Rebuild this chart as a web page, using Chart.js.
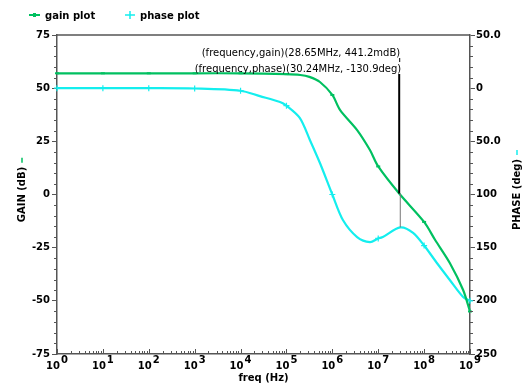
<!DOCTYPE html>
<html>
<head>
<meta charset="utf-8">
<script src="https://cdn.jsdelivr.net/npm/chart.js@4"></script>
<style>
  html, body { margin: 0; padding: 0; background: #fff; }
  #wrap { width: 526px; height: 387px; }
</style>
</head>
<body>
<div id="wrap"><canvas id="bode" width="526" height="387"></canvas></div>
<script>
// gain plot (freq in Hz, gain in dB)
const gainFreq = [1, 10, 100, 1e3, 1e4, 1e5, 2e5, 3.16e5, 5.37e5, 1e6, 1.48e6, 3.47e6, 6.6e6, 1e7, 28.65e6, 1e8, 1.74e8, 3.63e8, 7.08e8, 1e9];
const gainDb   = [57, 57, 57, 57, 57, 56.6, 56.2, 55.3, 52.9, 46.8, 39.7, 30.3, 20.9, 13.2, 0.44, -12.9, -21.4, -32.2, -44.9, -55];

// phase plot (freq in Hz, phase in deg)
const phaseFreq = [1, 10, 100, 1e3, 1e4, 2.63e4, 7.24e4, 1e5, 1.95e5, 3.24e5, 5.37e5, 1e6, 1.7e6, 3.47e6, 6.6e6, 1e7, 1.26e7, 30.24e6, 5.75e7, 1e8, 1.9e8, 3.63e8, 7.08e8, 1e9];
const phaseDeg  = [0, 0, 0, -0.3, -2.4, -7.5, -13, -16.5, -28, -48.7, -70.4, -100, -124, -140, -144.7, -141.3, -140, -130.9, -136, -148, -164.4, -180.4, -196.4, -200];

// axes
const gainTicks = [-75, -50, -25, 0, 25, 50, 75];
const phaseTicks = [50, 0, -50, -100, -150, -200, -250];
const phaseTickLabels = ['50.0', '0', '50.0', '100', '150', '200', '250'];
const decades = [0, 1, 2, 3, 4, 5, 6, 7, 8, 9];

// cursor readouts
const gainCursor = { freq: 28.65e6, val: 0.4412, text: '(frequency,gain)(28.65MHz, 441.2mdB)' };
const phaseCursor = { freq: 30.24e6, val: -130.9, text: '(frequency,phase)(30.24MHz, -130.9deg)' };

const GREEN = '#00c060';
const CYAN = '#14eeee';
const AXIS = '#555555';
const FONT = "'DejaVu Sans', Verdana, sans-serif";

const isDecade = v => Math.abs(Math.log10(v) - Math.round(Math.log10(v))) < 1e-6;

const extras = {
    id: 'extras',
    afterDraw(chart) {
        const ctx = chart.ctx;
        const a = chart.chartArea;
        const x = chart.scales.x, y = chart.scales.y, y2 = chart.scales.y2;
        ctx.save();

        // top border
        ctx.strokeStyle = AXIS;
        ctx.lineWidth = 1.5;
        ctx.beginPath();
        ctx.moveTo(a.left, a.top); ctx.lineTo(a.right, a.top);
        ctx.stroke();

        // minor ticks on y axes
        ctx.lineWidth = 1;
        ctx.beginPath();
        for (let v = -75; v <= 75; v += 5) {
            if (v % 25 === 0) continue;
            const py = Math.round(y.getPixelForValue(v)) + 0.5;
            ctx.moveTo(a.left - 3, py); ctx.lineTo(a.left, py);
        }
        for (let v = -250; v <= 50; v += 10) {
            if (v % 50 === 0) continue;
            const py = Math.round(y2.getPixelForValue(v)) + 0.5;
            ctx.moveTo(a.right, py); ctx.lineTo(a.right + 3, py);
        }
        // x ticks
        decades.forEach(d => {
            for (let m = 1; m <= 9; m++) {
                if (d === 9 && m > 1) break;
                const px = Math.round(x.getPixelForValue(m * Math.pow(10, d))) + 0.5;
                const len = m === 1 ? 5 : 3;
                ctx.moveTo(px, a.bottom); ctx.lineTo(px, a.bottom - len);
            }
        });
        ctx.stroke();

        // x tick labels with exponents
        ctx.fillStyle = '#000';
        ctx.textBaseline = 'alphabetic';
        decades.forEach(d => {
            const px = x.getPixelForValue(Math.pow(10, d));
            ctx.font = 'bold 10px ' + FONT;
            const w1 = ctx.measureText('10').width;
            ctx.font = 'bold 10px ' + FONT;
            const w2 = ctx.measureText(String(d)).width;
            const left = px - (w1 + w2 + 1) / 2;
            ctx.textAlign = 'left';
            ctx.fillText('10', left, 369);
            ctx.fillText(String(d), left + w1 + 1, 363);
        });

        // x title
        ctx.font = 'bold 10px ' + FONT;
        ctx.textAlign = 'center';
        ctx.fillText('freq (Hz)', (a.left + a.right) / 2, 381);

        // y titles (both read bottom to top)
        const midY = (a.top + a.bottom) / 2;
        [[22, 'GAIN (dB)', GREEN], [517, 'PHASE (deg)', CYAN]].forEach(([tx, txt, col]) => {
            ctx.save();
            ctx.translate(tx, midY);
            ctx.rotate(-Math.PI / 2);
            ctx.font = 'bold 10px ' + FONT;
            ctx.textAlign = 'center';
            ctx.textBaseline = 'middle';
            ctx.fillStyle = '#000';
            ctx.fillText(txt, 0, 0);
            const w = ctx.measureText(txt).width;
            ctx.strokeStyle = col;
            ctx.lineWidth = 1.5;
            ctx.beginPath();
            ctx.moveTo(w / 2 + 4, 0); ctx.lineTo(w / 2 + 9, 0);
            ctx.stroke();
            ctx.restore();
        });

        // legend
        ctx.font = 'bold 10px ' + FONT;
        ctx.textAlign = 'left';
        ctx.textBaseline = 'alphabetic';
        ctx.strokeStyle = GREEN;
        ctx.lineWidth = 2;
        ctx.beginPath(); ctx.moveTo(29, 15); ctx.lineTo(40, 15); ctx.stroke();
        ctx.fillStyle = GREEN;
        ctx.fillRect(33, 13, 3, 4);
        ctx.fillStyle = '#000';
        ctx.fillText('gain plot', 45, 19);
        ctx.strokeStyle = CYAN;
        ctx.lineWidth = 1.5;
        ctx.beginPath();
        ctx.moveTo(125, 15); ctx.lineTo(135, 15);
        ctx.moveTo(130, 11); ctx.lineTo(130, 19);
        ctx.stroke();
        ctx.fillText('phase plot', 140, 19);

        // cursor
        const gx = x.getPixelForValue(gainCursor.freq);
        const gy = y.getPixelForValue(gainCursor.val);
        const phx = x.getPixelForValue(phaseCursor.freq);
        const phy = y2.getPixelForValue(phaseCursor.val);
        ctx.strokeStyle = '#000';
        ctx.lineWidth = 2;
        ctx.beginPath(); ctx.moveTo(gx, 74); ctx.lineTo(gx, gy); ctx.stroke();
        ctx.strokeStyle = '#777';
        ctx.lineWidth = 1;
        ctx.beginPath(); ctx.moveTo(phx, gy); ctx.lineTo(phx, phy); ctx.stroke();
        ctx.strokeStyle = '#000';
        ctx.beginPath(); ctx.moveTo(gx + 0.5, 58); ctx.lineTo(gx + 0.5, 62); ctx.stroke();

        ctx.font = '10px ' + FONT;
        ctx.textAlign = 'right';
        ctx.fillStyle = '#000';
        ctx.fillText(gainCursor.text, gx + 1, 56);
        ctx.fillText(phaseCursor.text, phx + 1, 72);

        ctx.restore();
    }
};

const gainData = gainFreq.map((f, i) => ({ x: f, y: gainDb[i] }));
const phaseData = phaseFreq.map((f, i) => ({ x: f, y: phaseDeg[i] }));

new Chart(document.getElementById('bode').getContext('2d'), {
    type: 'line',
    data: {
        datasets: [
            {
                label: 'gain plot',
                data: gainData,
                yAxisID: 'y',
                borderColor: GREEN,
                backgroundColor: GREEN,
                borderWidth: 2.2,
                tension: 0.3,
                pointStyle: 'line',
                pointRadius: c => (c.raw && isDecade(c.raw.x) ? 2 : 0),
                pointBorderWidth: 2,
                clip: false,
            },
            {
                label: 'phase plot',
                data: phaseData,
                yAxisID: 'y2',
                borderColor: CYAN,
                backgroundColor: CYAN,
                borderWidth: 2.2,
                tension: 0.3,
                pointStyle: 'cross',
                pointRadius: c => (c.raw && isDecade(c.raw.x) ? 3 : 0),
                pointBorderWidth: 1.2,
                clip: false,
            }
        ]
    },
    options: {
        responsive: false,
        animation: false,
        devicePixelRatio: 1,
        layout: { padding: { top: 35, left: 0, right: 0, bottom: 0 } },
        plugins: { legend: { display: false }, tooltip: { enabled: false } },
        scales: {
            x: {
                type: 'logarithmic',
                position: 'bottom',
                min: 1,
                max: 1e9,
                ticks: { display: false },
                grid: { display: false },
                border: { display: true, color: AXIS, width: 1.5 },
                afterFit: s => { s.height = 33; }
            },
            y: {
                position: 'left',
                min: -75,
                max: 75,
                afterBuildTicks: s => { s.ticks = gainTicks.map(v => ({ value: v })); },
                ticks: { color: '#000', font: { family: FONT, size: 10, weight: 'bold' }, padding: 2 },
                grid: { drawOnChartArea: false, drawTicks: true, tickLength: 5, tickColor: AXIS },
                border: { color: AXIS, width: 1.5 },
                afterFit: s => { s.width = 57; }
            },
            y2: {
                position: 'right',
                min: -250,
                max: 50,
                afterBuildTicks: s => { s.ticks = phaseTicks.map(v => ({ value: v })); },
                ticks: {
                    color: '#000',
                    font: { family: FONT, size: 10, weight: 'bold' },
                    padding: 1,
                    callback: v => phaseTickLabels[phaseTicks.indexOf(v)]
                },
                grid: { drawOnChartArea: false, drawTicks: true, tickLength: 5, tickColor: AXIS },
                border: { color: AXIS, width: 1.5 },
                afterFit: s => { s.width = 56; }
            }
        }
    },
    plugins: [extras]
});
</script>
</body>
</html>
